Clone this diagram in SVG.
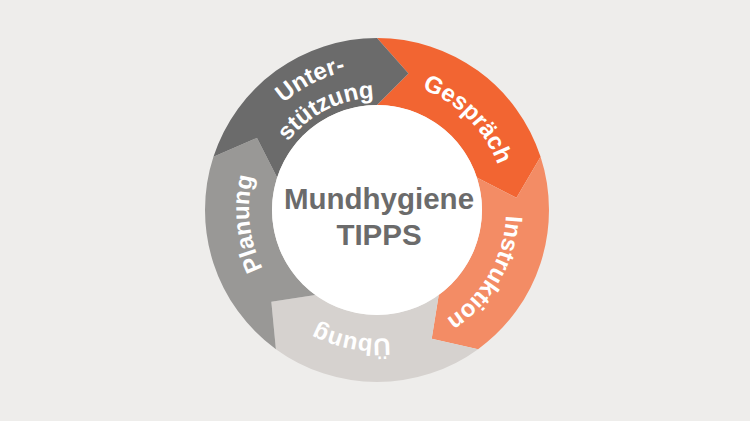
<svg xmlns="http://www.w3.org/2000/svg" width="750" height="421" viewBox="0 0 750 421">
<style>
.seg-text{font-family:"Liberation Sans",Arial,sans-serif;font-weight:bold;font-size:24px;fill:#ffffff;}
.center-text{font-family:"Liberation Sans",Arial,sans-serif;font-weight:bold;font-size:29.5px;fill:#6b6b6b;text-anchor:middle;}
</style>
<defs>
<path id="p-gespraech" d="M 285.78 118.78 A 129 129 0 0 1 468.22 301.22"/>
<path id="p-instruktion" d="M 441.5 98.28 A 129 129 0 0 1 312.5 321.72"/>
<path id="p-uebung" d="M 503.63 234.61 A 129 129 0 0 1 250.37 185.39"/>
<path id="p-planung" d="M 390.48 338.29 A 129 129 0 0 1 363.52 81.71"/>
<path id="p-unter" d="M 249.59 274.92 A 143 143 0 0 1 504.41 145.08"/>
<path id="p-stuetzung" d="M 276.32 261.30 A 113 113 0 0 1 477.68 158.70"/>
</defs>
<rect width="750" height="421" fill="#eeedeb"/>
<g id="gespraech">
<path d="M 377 38 A 172 172 0 0 1 540.58 156.85 L 516.47 197.80 L 476.86 177.55 A 105 105 0 0 0 377 105 L 408.49 73.59 Z" fill="#f26532"/>
<text class="seg-text"><textPath href="#p-gespraech" startOffset="50%" text-anchor="middle">Gespräch</textPath></text>
</g>
<g id="instruktion">
<path d="M 540.58 156.85 A 172 172 0 0 1 478.10 349.15 L 431.70 338.87 L 438.72 294.95 A 105 105 0 0 0 476.86 177.55 L 516.47 197.80 Z" fill="#f38c65"/>
<text class="seg-text"><textPath href="#p-instruktion" startOffset="50%" text-anchor="middle">Instruktion</textPath></text>
</g>
<g id="uebung">
<path d="M 478.10 349.15 A 172 172 0 0 1 275.90 349.15 L 271.34 301.85 L 315.28 294.95 A 105 105 0 0 0 438.72 294.95 L 431.70 338.87 Z" fill="#d6d2cf"/>
<text class="seg-text"><textPath href="#p-uebung" startOffset="50%" text-anchor="middle">Übung</textPath></text>
</g>
<g id="planung">
<path d="M 275.90 349.15 A 172 172 0 0 1 213.42 156.85 L 257.00 137.89 L 277.14 177.55 A 105 105 0 0 0 315.28 294.95 L 271.34 301.85 Z" fill="#999896"/>
<text class="seg-text"><textPath href="#p-planung" startOffset="50%" text-anchor="middle">Planung</textPath></text>
</g>
<g id="unterstuetzung">
<path d="M 213.42 156.85 A 172 172 0 0 1 377 38 L 408.49 73.59 L 377 105 A 105 105 0 0 0 277.14 177.55 L 257.00 137.89 Z" fill="#6b6b6b"/>
<text class="seg-text"><textPath href="#p-unter" startOffset="50%" text-anchor="middle">Unter-</textPath></text>
<text class="seg-text"><textPath href="#p-stuetzung" startOffset="50%" text-anchor="middle">stützung</textPath></text>
</g>
<g id="center">
<circle cx="377" cy="210" r="105" fill="#ffffff"/>
<text class="center-text" x="379" y="209">Mundhygiene</text>
<text class="center-text" x="379" y="245">TIPPS</text>
</g>
<g id="connectors"/>
</svg>
